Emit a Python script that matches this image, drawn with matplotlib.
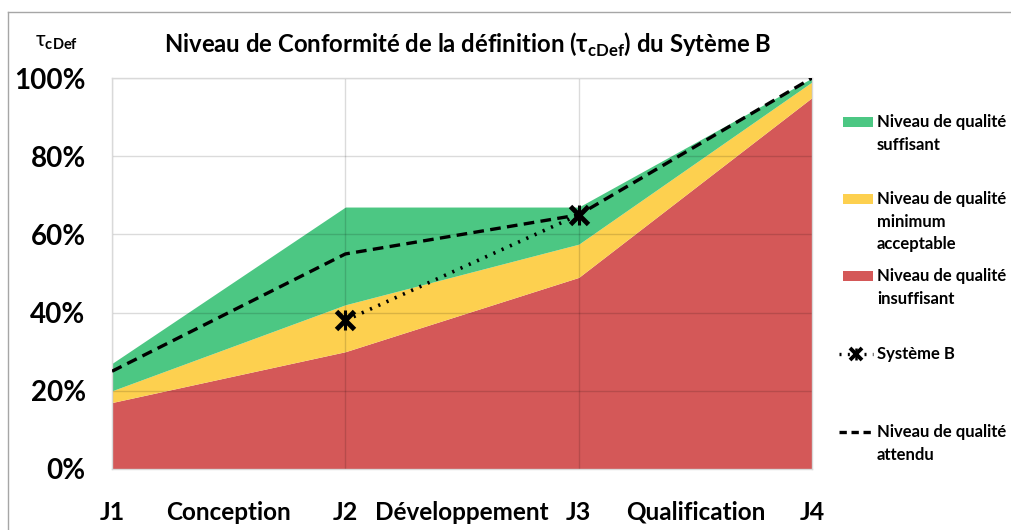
import matplotlib
matplotlib.use("Agg")
import matplotlib.pyplot as plt
from matplotlib.lines import Line2D
from matplotlib.patches import Rectangle

plt.rcParams['font.family'] = ['Lato', 'DejaVu Sans']
plt.rcParams['mathtext.fontset'] = 'custom'
plt.rcParams['mathtext.rm'] = 'Lato'
plt.rcParams['mathtext.bf'] = 'Lato:bold'

# jalons et phases du projet
jalons = ['J1', 'J2', 'J3', 'J4']
phases = ['Conception', 'Développement', 'Qualification']

# bornes supérieures des zones de qualité (%)
insuffisant = [17, 30, 49, 95]
minimum = [20, 42, 57.5, 99]
suffisant = [27, 67, 67, 100]

# niveau attendu et mesures du système B (%)
attendu = [25, 55, 65, 100]
systeme_b_x = [1, 2]
systeme_b = [38, 65]

VERT = '#4cc783'
JAUNE = '#fdd04f'
ROUGE = '#d45858'

fig = plt.figure(figsize=(10.11, 5.30), dpi=100)
ax = fig.add_axes([0.1108, 0.1151, 0.6924, 0.7377])

x = list(range(len(jalons)))
ax.fill_between(x, 0, insuffisant, color=ROUGE, lw=0, zorder=1)
ax.fill_between(x, insuffisant, minimum, color=JAUNE, lw=0, zorder=1)
ax.fill_between(x, minimum, suffisant, color=VERT, lw=0, zorder=1)

ax.plot(x, attendu, color='black', lw=2.4, ls=(0, (3.2, 1.9)), zorder=3)
ax.plot(systeme_b_x, systeme_b, color='black', lw=2.6, ls=(0, (0.6, 1.9)),
        zorder=3)
ax.plot(systeme_b_x, systeme_b, ls='none', marker='x', ms=13, mew=3.5,
        color='black', zorder=4)
ax.plot(systeme_b_x, systeme_b, ls='none', marker='|', ms=15, mew=2.2,
        color='black', zorder=4)

ax.set_xlim(0, 3)
ax.set_ylim(0, 100)
ax.set_axisbelow('line')
ax.grid(True, which='major', color='black', alpha=0.14, lw=1)

ax.set_yticks([0, 20, 40, 60, 80, 100])
ax.set_yticklabels([f'{v}%' for v in range(0, 101, 20)],
                   fontsize=20, fontweight='bold')
ax.set_xticks(x)
ax.set_xticklabels(jalons, fontsize=18, fontweight='bold')
ax.set_xticks([0.5, 1.5, 2.5], minor=True)
ax.set_xticklabels(phases, minor=True, fontsize=17.5, fontweight='bold')
ax.tick_params(axis='y', length=0, pad=19)
ax.tick_params(axis='x', which='both', length=0, pad=23)
for s in ax.spines.values():
    s.set_color('#d9d9d9')
    s.set_linewidth(1)

W, H = 1011, 530


def fx(px):
    return px / W


def fy(py):
    return 1 - py / H


fig.text(fx(468), fy(45), 'Niveau de Conformité de la définition '
         r'(τ$_{\mathbf{cDef}}$) du Sytème B',
         ha='center', va='center', fontsize=17.2, fontweight='bold')
fig.text(fx(35), fy(42), r'τ$_{\mathbf{cDef}}$', ha='left', va='center',
         fontsize=15)

# cadre du graphique
fig.add_artist(Line2D([fx(8), 1], [fy(12), fy(12)], color='#a6a6a6', lw=1))
fig.add_artist(Line2D([fx(8), fx(8)], [fy(12), 0], color='#a6a6a6', lw=1))

# légende
legende = [
    ('patch', VERT, 122, ['Niveau de qualité', 'suffisant']),
    ('patch', JAUNE, 199, ['Niveau de qualité', 'minimum', 'acceptable']),
    ('patch', ROUGE, 276, ['Niveau de qualité', 'insuffisant']),
    ('pts', None, 354, ['Système B']),
    ('dash', None, 432, ['Niveau de qualité', 'attendu']),
]
for kind, col, py, lignes in legende:
    if kind == 'patch':
        fig.add_artist(Rectangle((fx(843), fy(py + 5)), fx(30), 10 / H,
                                 color=col, lw=0))
    elif kind == 'pts':
        fig.add_artist(Line2D([fx(839), fx(873)], [fy(py), fy(py)],
                              color='black', lw=2.4, ls=(0, (0.6, 1.9))))
        fig.add_artist(Line2D([fx(856)], [fy(py)], color='black', ls='none',
                              marker='x', ms=8, mew=2.8))
        fig.add_artist(Line2D([fx(856)], [fy(py)], color='black', ls='none',
                              marker='|', ms=9, mew=1.8))
    else:
        fig.add_artist(Line2D([fx(839), fx(873)], [fy(py), fy(py)],
                              color='black', lw=2.4, ls=(0, (2.2, 1.4))))
    for i, ligne in enumerate(lignes):
        fig.text(fx(877), fy(py + i * 22.7), ligne, ha='left', va='center',
                 fontsize=12, fontweight='bold')

fig.savefig('out.png', dpi=100)
